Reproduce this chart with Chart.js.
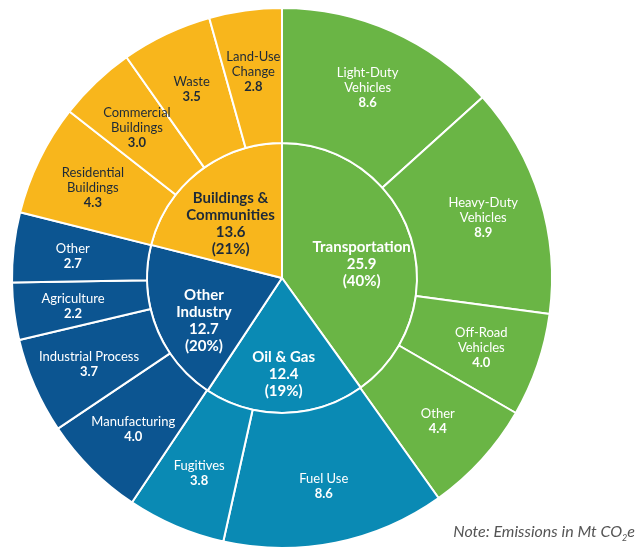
<!DOCTYPE html>
<html lang="en">
<head>
  <meta charset="UTF-8">
  <title>Emissions by Sector</title>
  <script src="https://cdn.jsdelivr.net/npm/chart.js"></script>
  <style>
    body {
      margin: 0;
      padding: 0;
      background-color: #ffffff;
      font-family: 'Lato', 'Open Sans', sans-serif;
    }
    .wrap {
      position: relative;
      width: 637px;
      height: 549px;
      overflow: hidden;
    }
    .note {
      position: absolute;
      right: 2px;
      bottom: 6px;
      font-style: italic;
      font-size: 16px;
      color: #555;
    }
    .note sub {
      font-size: 9px;
    }
  </style>
</head>
<body>

  <div class="wrap">
    <canvas id="sunburst" width="637" height="549"></canvas>
    <div class="note">Note: Emissions in Mt CO<sub>2</sub>e</div>
  </div>

  <script>
    // inner ring (sectors)
    const sectores = ['Transportation', 'Oil & Gas', 'Other\nIndustry', 'Buildings &\nCommunities'];
    const valoresSector = [25.9, 12.4, 12.7, 13.6];
    const coresSector = ['#6ab545', '#0a8ab4', '#0c5591', '#f8b61c'];

    // outer ring (sub-sectors)
    const subSectores = [
      'Light-Duty\nVehicles', 'Heavy-Duty\nVehicles', 'Off-Road\nVehicles', 'Other',
      'Fuel Use', 'Fugitives',
      'Manufacturing', 'Industrial Process', 'Agriculture', 'Other',
      'Residential\nBuildings', 'Commercial\nBuildings', 'Waste', 'Land-Use\nChange'
    ];
    const valoresSub = [8.6, 8.9, 4.0, 4.4, 8.6, 3.8, 4.0, 3.7, 2.2, 2.7, 4.3, 3.0, 3.5, 2.8];
    const grupoSub = [0, 0, 0, 0, 1, 1, 2, 2, 2, 2, 3, 3, 3, 3];

    const totalSector = valoresSector.reduce((a, b) => a + b, 0);

    function corTexto(grupo) {
      return grupo === 3 ? '#1e2a38' : '#ffffff';
    }

    // draws the labels on each arc
    const rotulos = {
      id: 'rotulos',
      afterDatasetsDraw(chart) {
        const ctx = chart.ctx;
        ctx.save();
        ctx.textAlign = 'center';
        ctx.textBaseline = 'middle';

        // outer ring
        chart.getDatasetMeta(0).data.forEach((arc, i) => {
          const p = arc.getProps(['x', 'y', 'startAngle', 'endAngle', 'innerRadius', 'outerRadius']);
          const meio = (p.startAngle + p.endAngle) / 2;
          const r = p.innerRadius + 0.56 * (p.outerRadius - p.innerRadius);
          const x = p.x + Math.cos(meio) * r;
          const y = p.y + Math.sin(meio) * r;
          const linhas = subSectores[i].split('\n');
          const alt = 15;
          const topo = y - (linhas.length) * alt / 2 + 2;
          ctx.fillStyle = corTexto(grupoSub[i]);
          ctx.font = '13px Lato, "Open Sans", sans-serif';
          linhas.forEach((l, k) => ctx.fillText(l, x, topo + k * alt));
          ctx.font = 'bold 13px Lato, "Open Sans", sans-serif';
          ctx.fillText(valoresSub[i].toFixed(1), x, topo + linhas.length * alt);
        });

        // inner ring
        chart.getDatasetMeta(1).data.forEach((arc, i) => {
          const p = arc.getProps(['x', 'y', 'startAngle', 'endAngle', 'innerRadius', 'outerRadius']);
          const meio = (p.startAngle + p.endAngle) / 2;
          const r = 0.62 * p.outerRadius;
          const x = p.x + Math.cos(meio) * r;
          const y = p.y + Math.sin(meio) * r + 12;
          const linhas = sectores[i].split('\n');
          linhas.push(valoresSector[i].toFixed(1));
          linhas.push('(' + Math.round(valoresSector[i] / totalSector * 100) + '%)');
          const alt = 17;
          const topo = y - (linhas.length - 1) * alt / 2;
          ctx.fillStyle = corTexto(i);
          ctx.font = 'bold 15px Lato, "Open Sans", sans-serif';
          linhas.forEach((l, k) => ctx.fillText(l, x, topo + k * alt));
        });

        ctx.restore();
      }
    };

    const ctx = document.getElementById('sunburst').getContext('2d');
    new Chart(ctx, {
      type: 'doughnut',
      data: {
        labels: subSectores,
        datasets: [
          {
            data: valoresSub,
            backgroundColor: grupoSub.map(g => coresSector[g]),
            borderColor: '#ffffff',
            borderWidth: 2
          },
          {
            data: valoresSector,
            backgroundColor: coresSector,
            borderColor: '#ffffff',
            borderWidth: 2
          }
        ]
      },
      options: {
        responsive: false,
        animation: false,
        cutout: 0,
        layout: {
          padding: { top: 7, bottom: 0, left: 10, right: 83 }
        },
        plugins: {
          legend: { display: false },
          tooltip: { enabled: false }
        }
      },
      plugins: [rotulos]
    });
  </script>

</body>
</html>
